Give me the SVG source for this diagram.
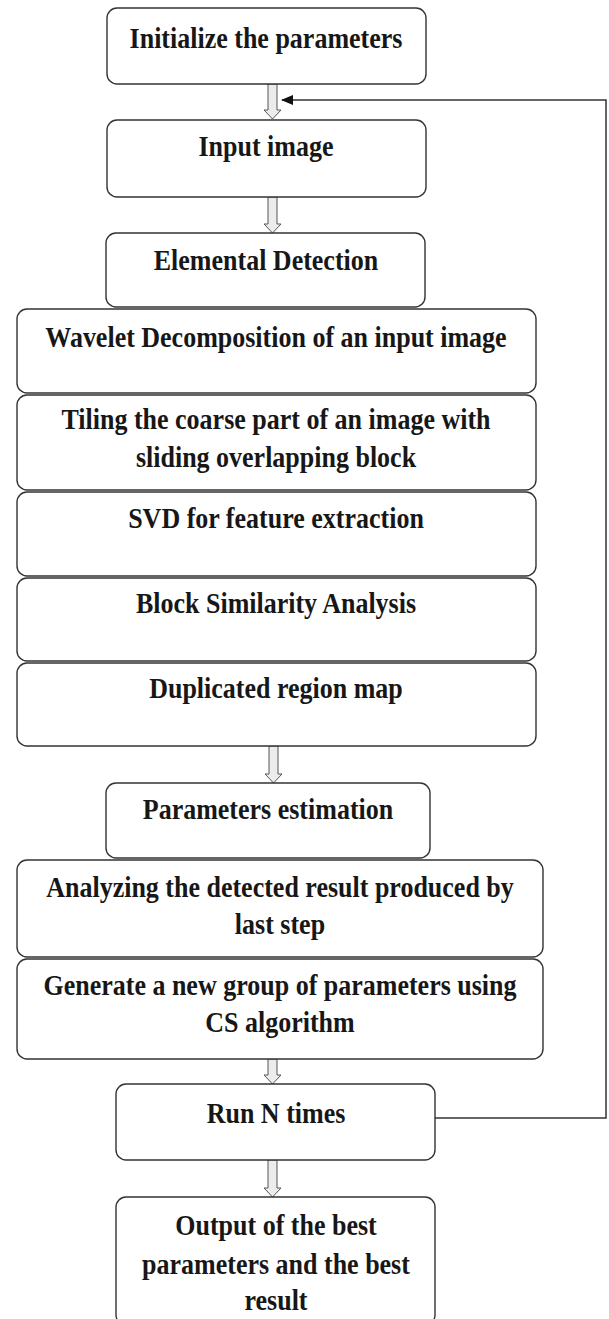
<svg xmlns="http://www.w3.org/2000/svg" width="609" height="1319" viewBox="0 0 609 1319">
  <style>
    .box { fill: #ffffff; stroke: #333333; stroke-width: 1.4; }
    .lbl { font-family: "Liberation Serif", "Times New Roman", serif; font-weight: bold; font-size: 26px; fill: #171717; text-anchor: middle; }
    .flow { fill: #ececec; stroke: #555555; stroke-width: 1; }
    .loop { fill: none; stroke: #333333; stroke-width: 1.5; }
  </style>
  <defs>
    <marker id="head" viewBox="0 0 12 10" refX="11" refY="5" markerWidth="12" markerHeight="10" markerUnits="userSpaceOnUse" orient="auto">
      <path d="M0,0 L12,5 L0,10 Z" fill="#111111"/>
    </marker>
  </defs>
  <rect width="609" height="1319" fill="#ffffff"/>

  <!-- hollow block arrows between steps, and the loop back from "Run N times" -->
  <g id="connectors">
    <path class="flow" d="M268,84 V110 H264 L272.5,119 L281,110 H277 V84 Z"/>
    <path class="flow" d="M268,197 V224 H264 L272.5,233 L281,224 H277 V197 Z"/>
    <path class="flow" d="M269,746 V774 H265 L273.5,783 L282,774 H278 V746 Z"/>
    <path class="flow" d="M268,1059 V1075 H264 L272.5,1084 L281,1075 H277 V1059 Z"/>
    <path class="flow" d="M268,1160 V1188 H264 L272.5,1197 L281,1188 H277 V1160 Z"/>
    <path class="loop" d="M435,1118 H606 V100 H282" marker-end="url(#head)"/>
  </g>

  <!-- labels are stretched 12% vertically about their baseline (matrix d=1.12, f=-0.12*y) -->
  <g id="n-init">
    <rect class="box" x="107" y="8" width="319" height="76" rx="10"/>
    <text class="lbl" x="266" y="48" transform="matrix(1 0 0 1.12 0 -5.76)">Initialize the parameters</text>
  </g>
  <g id="n-input">
    <rect class="box" x="107" y="120" width="319" height="77" rx="10"/>
    <text class="lbl" x="266" y="156" transform="matrix(1 0 0 1.12 0 -18.72)">Input image</text>
  </g>
  <g id="n-elemental">
    <rect class="box" x="106" y="233" width="319" height="74" rx="10"/>
    <text class="lbl" x="266" y="270" transform="matrix(1 0 0 1.12 0 -32.4)">Elemental Detection</text>
  </g>
  <g id="n-wavelet">
    <rect class="box" x="17" y="309" width="519" height="84" rx="10"/>
    <text class="lbl" x="276" y="347" transform="matrix(1 0 0 1.12 0 -41.64)">Wavelet Decomposition of an input image</text>
  </g>
  <g id="n-tiling">
    <rect class="box" x="17" y="395" width="519" height="95" rx="10"/>
    <text class="lbl" x="276" y="429" transform="matrix(1 0 0 1.12 0 -51.48)">Tiling the coarse part of an image with</text>
    <text class="lbl" x="276" y="467" transform="matrix(1 0 0 1.12 0 -56.04)">sliding overlapping block</text>
  </g>
  <g id="n-svd">
    <rect class="box" x="17" y="492" width="519" height="84" rx="10"/>
    <text class="lbl" x="276" y="528" transform="matrix(1 0 0 1.12 0 -63.36)">SVD for feature extraction</text>
  </g>
  <g id="n-block">
    <rect class="box" x="17" y="578" width="519" height="83" rx="10"/>
    <text class="lbl" x="276" y="613" transform="matrix(1 0 0 1.12 0 -73.56)">Block Similarity Analysis</text>
  </g>
  <g id="n-dup">
    <rect class="box" x="17" y="663" width="519" height="83" rx="10"/>
    <text class="lbl" x="276" y="698" transform="matrix(1 0 0 1.12 0 -83.76)">Duplicated region map</text>
  </g>
  <g id="n-params">
    <rect class="box" x="106" y="783" width="324" height="75" rx="10"/>
    <text class="lbl" x="268" y="819" transform="matrix(1 0 0 1.12 0 -98.28)">Parameters estimation</text>
  </g>
  <g id="n-analyze">
    <rect class="box" x="17" y="860" width="526" height="97" rx="10"/>
    <text class="lbl" x="280" y="897" transform="matrix(1 0 0 1.12 0 -107.64)">Analyzing the detected result produced by</text>
    <text class="lbl" x="280" y="934" transform="matrix(1 0 0 1.12 0 -112.08)">last step</text>
  </g>
  <g id="n-generate">
    <rect class="box" x="17" y="959" width="526" height="100" rx="10"/>
    <text class="lbl" x="280" y="995" transform="matrix(1 0 0 1.12 0 -119.4)">Generate a new group of parameters using</text>
    <text class="lbl" x="280" y="1032" transform="matrix(1 0 0 1.12 0 -123.84)">CS algorithm</text>
  </g>
  <g id="n-run">
    <rect class="box" x="116" y="1084" width="319" height="76" rx="10"/>
    <text class="lbl" x="276" y="1123" transform="matrix(1 0 0 1.12 0 -134.76)">Run N times</text>
  </g>
  <g id="n-output">
    <rect class="box" x="116" y="1197" width="319" height="128" rx="10"/>
    <text class="lbl" x="276" y="1235" transform="matrix(1 0 0 1.12 0 -148.2)">Output of the best</text>
    <text class="lbl" x="276" y="1274" transform="matrix(1 0 0 1.12 0 -152.88)">parameters and the best</text>
    <text class="lbl" x="276" y="1310" transform="matrix(1 0 0 1.12 0 -157.2)">result</text>
  </g>
</svg>
